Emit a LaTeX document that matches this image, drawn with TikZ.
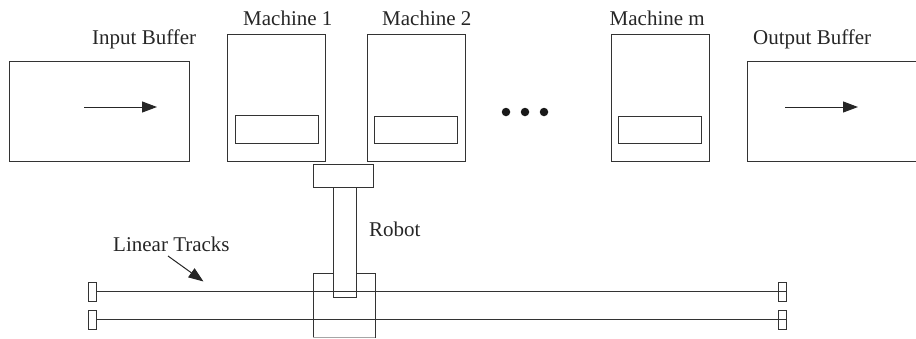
\documentclass[tikz,border=0pt]{standalone}
\usepackage{fontspec}
\setmainfont{Liberation Serif}
\usetikzlibrary{arrows.meta}
\tikzset{
  x=1pt,y=-1pt,
  box/.style={draw=black!80,line width=1pt,fill=none},
  lab/.style={font=\fontsize{21}{25}\selectfont,text=black!85,inner sep=0pt,anchor=base west},
  arr/.style={draw=black!85,line width=1pt,-{Triangle[length=15pt,width=11pt]}},
  dotn/.style={circle,fill=black!90,minimum size=8.5pt,inner sep=0pt},
}
\begin{document}
\begin{tikzpicture}
\useasboundingbox (0,0) rectangle (916,338);
\draw[box] (9,61) rectangle (189,161);
\draw[box] (227.5,34) rectangle (325,161);
\draw[box] (235,115.5) rectangle (318,143);
\draw[box] (367.5,34) rectangle (465,161);
\draw[box] (374.5,116) rectangle (457.5,143);
\draw[box] (611,34) rectangle (709,161);
\draw[box] (618.5,116) rectangle (701.5,143);
\draw[box] (916,61) -- (747,61) -- (747,161) -- (916,161);
% arrows
\coordinate (ia) at (84,107); \coordinate (ib) at (157,107);
\coordinate (oa) at (785,107); \coordinate (ob) at (858,107);
\coordinate (la) at (168,256); \coordinate (lb) at (203.5,281.5);
\draw[arr] (ia) -- (ib);
\draw[arr] (oa) -- (ob);
\draw[arr] (la) -- (lb);
% dots
\node[dotn] (d1) at (506,112) {};
\node[dotn] (d2) at (525,112) {};
\node[dotn] (d3) at (544,112) {};
% robot
\draw[box] (313,164.5) rectangle (373,187);
\draw[box] (333.5,187) rectangle (356.5,297);
\draw[box] (333.5,273) -- (313,273) -- (313,337.5);
\draw[box] (356.5,273) -- (375,273) -- (375,337.5);
\draw[draw=black!35,line width=1pt] (313,337.5) -- (375,337.5);
% tracks
\draw[box] (88,282) rectangle (96,301);
\draw[box] (88,310) rectangle (96,329);
\draw[box] (778,282) rectangle (786,301);
\draw[box] (778,310) rectangle (786,329);
\draw[box] (96,291.5) -- (786,291.5);
\draw[box] (96,319.5) -- (786,319.5);
% labels
\node[lab] (t1) at (92,44.5) {Input Buffer};
\node[lab] (t2) at (243,25) {Machine 1};
\node[lab] (t3) at (382,25) {Machine 2};
\node[lab] (t4) at (609.5,25) {Machine m};
\node[lab] (t5) at (753,44.5) {Output Buffer};
\node[lab] (t6) at (369,236) {Robot};
\node[lab] (t7) at (113,251) {Linear Tracks};
\end{tikzpicture}
\end{document}
